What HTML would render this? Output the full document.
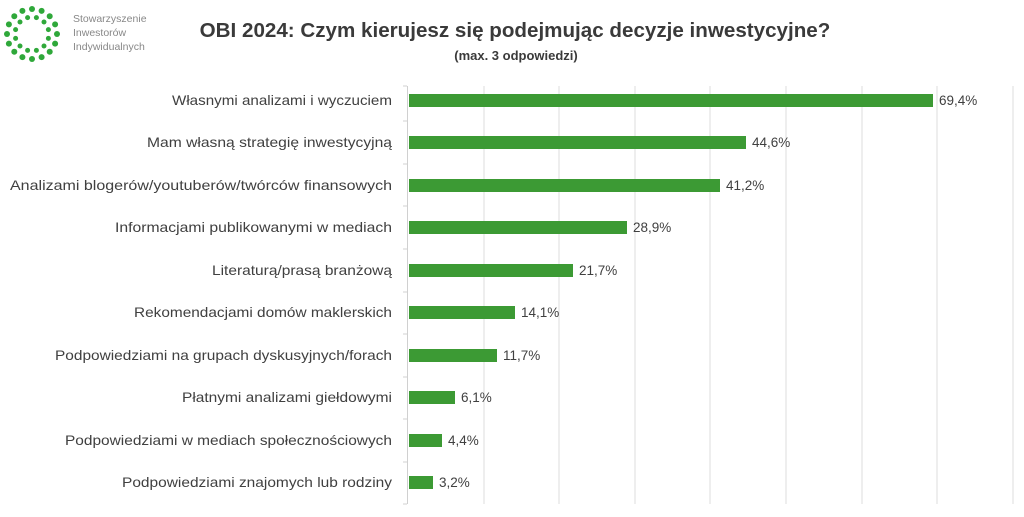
<!DOCTYPE html>
<html><head><meta charset="utf-8"><style>
html,body{margin:0;padding:0;background:#fff;}
svg{display:block;}
text{font-family:"Liberation Sans",sans-serif;}
</style></head><body>
<svg width="1024" height="517" viewBox="0 0 1024 517" xmlns="http://www.w3.org/2000/svg">
<rect width="1024" height="517" fill="#fff"/>
<g fill="#2fa83a">
<circle cx="57" cy="34" r="3"/><circle cx="55.1" cy="43.6" r="3"/><circle cx="49.7" cy="51.7" r="3"/><circle cx="41.6" cy="57.1" r="3"/><circle cx="32" cy="59" r="3"/><circle cx="22.4" cy="57.1" r="3"/><circle cx="14.3" cy="51.7" r="3"/><circle cx="8.9" cy="43.6" r="3"/><circle cx="7" cy="34" r="3"/><circle cx="8.9" cy="24.4" r="3"/><circle cx="14.3" cy="16.3" r="3"/><circle cx="22.4" cy="10.9" r="3"/><circle cx="32" cy="9" r="3"/><circle cx="41.6" cy="10.9" r="3"/><circle cx="49.7" cy="16.3" r="3"/><circle cx="55.1" cy="24.4" r="3"/>
<circle cx="48.4" cy="38.4" r="2.5"/><circle cx="44" cy="46" r="2.5"/><circle cx="36.4" cy="50.4" r="2.5"/><circle cx="27.6" cy="50.4" r="2.5"/><circle cx="20" cy="46" r="2.5"/><circle cx="15.6" cy="38.4" r="2.5"/><circle cx="15.6" cy="29.6" r="2.5"/><circle cx="20" cy="22" r="2.5"/><circle cx="27.6" cy="17.6" r="2.5"/><circle cx="36.4" cy="17.6" r="2.5"/><circle cx="44" cy="22" r="2.5"/><circle cx="48.4" cy="29.6" r="2.5"/>
</g>
<g font-size="10.5" fill="#888">
<text x="73" y="22">Stowarzyszenie</text>
<text x="73" y="36">Inwestorów</text>
<text x="73" y="50">Indywidualnych</text>
</g>
<text x="515" y="37" font-size="20.6" font-weight="bold" fill="#3a3a3a" text-anchor="middle">OBI 2024: Czym kierujesz się podejmując decyzje inwestycyjne?</text>
<text x="516" y="60" font-size="13" font-weight="bold" fill="#3a3a3a" text-anchor="middle">(max. 3 odpowiedzi)</text>
<g stroke="#e2e2e2" stroke-width="1.2">
<line x1="484" y1="86" x2="484" y2="504"/><line x1="559" y1="86" x2="559" y2="504"/><line x1="635" y1="86" x2="635" y2="504"/><line x1="710" y1="86" x2="710" y2="504"/><line x1="786" y1="86" x2="786" y2="504"/><line x1="862" y1="86" x2="862" y2="504"/><line x1="937" y1="86" x2="937" y2="504"/><line x1="1013" y1="86" x2="1013" y2="504"/>
</g>
<g stroke="#d0d0d0" stroke-width="1">
<line x1="407.5" y1="86" x2="407.5" y2="504"/>
<line x1="403" y1="86" x2="407" y2="86"/><line x1="403" y1="121" x2="407" y2="121"/><line x1="403" y1="164" x2="407" y2="164"/><line x1="403" y1="206" x2="407" y2="206"/><line x1="403" y1="249" x2="407" y2="249"/><line x1="403" y1="292" x2="407" y2="292"/><line x1="403" y1="334" x2="407" y2="334"/><line x1="403" y1="377" x2="407" y2="377"/><line x1="403" y1="419" x2="407" y2="419"/><line x1="403" y1="462" x2="407" y2="462"/><line x1="403" y1="504" x2="407" y2="504"/>
</g>
<g fill="#3c9a34">
<rect x="409" y="94" width="524" height="13"/>
<rect x="409" y="136" width="337" height="13"/>
<rect x="409" y="179" width="311" height="13"/>
<rect x="409" y="221" width="218" height="13"/>
<rect x="409" y="264" width="164" height="13"/>
<rect x="409" y="306" width="106" height="13"/>
<rect x="409" y="349" width="88" height="13"/>
<rect x="409" y="391" width="46" height="13"/>
<rect x="409" y="434" width="33" height="13"/>
<rect x="409" y="476" width="24" height="13"/>
</g>
<g font-size="14" fill="#404040" text-anchor="end">
<text x="392" y="105" textLength="220" lengthAdjust="spacingAndGlyphs">Własnymi analizami i wyczuciem</text>
<text x="392" y="147" textLength="245" lengthAdjust="spacingAndGlyphs">Mam własną strategię inwestycyjną</text>
<text x="392" y="190" textLength="382" lengthAdjust="spacingAndGlyphs">Analizami blogerów/youtuberów/twórców finansowych</text>
<text x="392" y="232" textLength="277" lengthAdjust="spacingAndGlyphs">Informacjami publikowanymi w mediach</text>
<text x="392" y="275" textLength="180" lengthAdjust="spacingAndGlyphs">Literaturą/prasą branżową</text>
<text x="392" y="317" textLength="258" lengthAdjust="spacingAndGlyphs">Rekomendacjami domów maklerskich</text>
<text x="392" y="360" textLength="337" lengthAdjust="spacingAndGlyphs">Podpowiedziami na grupach dyskusyjnych/forach</text>
<text x="392" y="402" textLength="210" lengthAdjust="spacingAndGlyphs">Płatnymi analizami giełdowymi</text>
<text x="392" y="445" textLength="327" lengthAdjust="spacingAndGlyphs">Podpowiedziami w mediach społecznościowych</text>
<text x="392" y="487" textLength="270" lengthAdjust="spacingAndGlyphs">Podpowiedziami znajomych lub rodziny</text>
</g>
<g font-size="13.5" fill="#404040">
<text x="939" y="105">69,4%</text>
<text x="752" y="147">44,6%</text>
<text x="726" y="190">41,2%</text>
<text x="633" y="232">28,9%</text>
<text x="579" y="275">21,7%</text>
<text x="521" y="317">14,1%</text>
<text x="503" y="360">11,7%</text>
<text x="461" y="402">6,1%</text>
<text x="448" y="445">4,4%</text>
<text x="439" y="487">3,2%</text>
</g>
</svg>
</body></html>
